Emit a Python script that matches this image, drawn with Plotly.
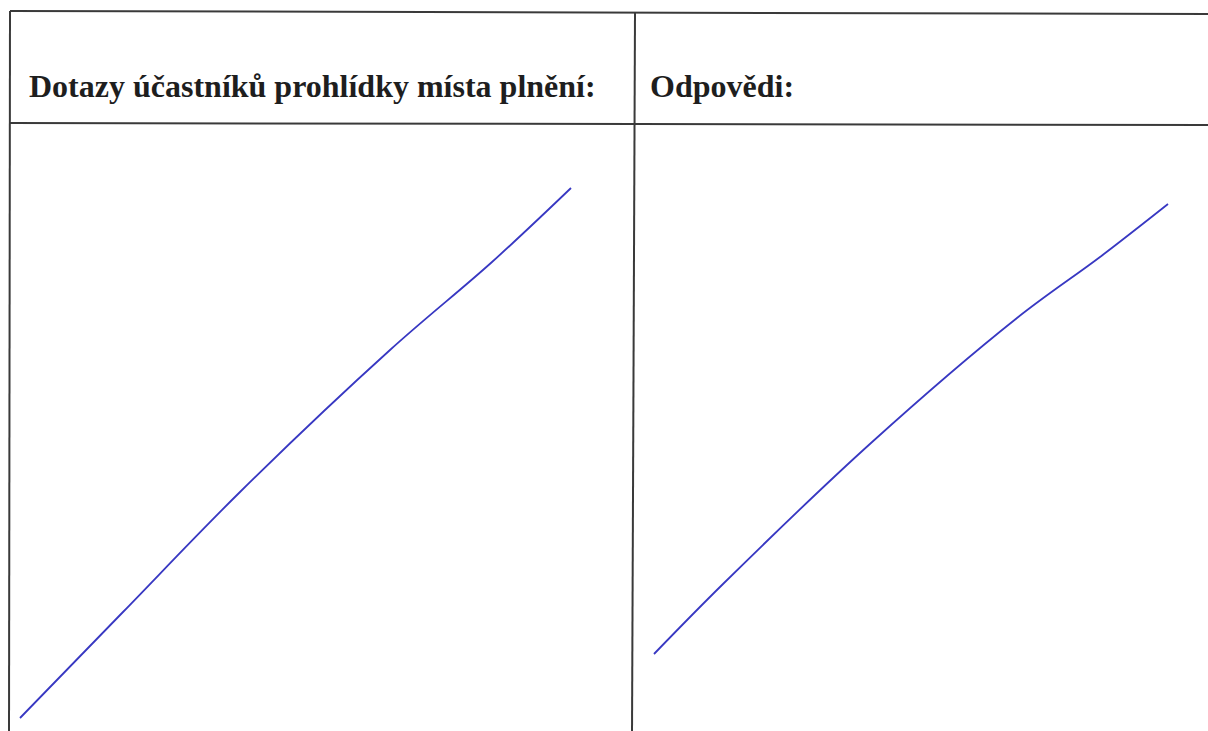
import plotly.graph_objects as go

# page size in px (scanned form)
page_w = 1208
page_h = 731

# column headers of the form
headers = ["Dotazy účastníků prohlídky místa plnění:", "Odpovědi:"]

# hand drawn strike-through line in the left cell (page coords)
left_x = [20, 123, 240, 390, 492, 571]
left_y = [718, 612, 492, 350, 262, 188]

# hand drawn strike-through line in the right cell
right_x = [654, 723, 871, 1017, 1100, 1168]
right_y = [654, 584, 443, 318, 257, 204]

# table grid
top_y = 11
header_y = 123
left_edge = 10
mid_x = 635

pen = "#3838c2"
grid = "#3a3a3a"

fig = go.Figure()

fig.add_trace(go.Scatter(x=left_x, y=left_y, mode="lines",
                         line=dict(color=pen, width=1.8, shape="spline", smoothing=1.0),
                         hoverinfo="skip"))
fig.add_trace(go.Scatter(x=right_x, y=right_y, mode="lines",
                         line=dict(color=pen, width=1.8, shape="spline", smoothing=1.0),
                         hoverinfo="skip"))

# table lines
shapes = [
    dict(type="line", x0=left_edge, x1=page_w + 5, y0=top_y, y1=top_y + 3),
    dict(type="line", x0=left_edge, x1=page_w + 5, y0=header_y, y1=header_y + 2),
    dict(type="line", x0=left_edge, x1=left_edge - 1, y0=top_y, y1=page_h + 5),
    dict(type="line", x0=mid_x, x1=mid_x - 3, y0=top_y + 2, y1=page_h + 5),
]
for s in shapes:
    s.update(xref="x", yref="y", line=dict(color=grid, width=2))

annotations = [
    dict(x=27, y=106, text="<b>" + headers[0] + "</b>"),
    dict(x=648, y=106, text="<b>" + headers[1] + "</b>"),
]
for a in annotations:
    a.update(xref="x", yref="y", xanchor="left", yanchor="bottom", showarrow=False,
             font=dict(family="Liberation Serif", size=32, color="#1e1e1e"))

fig.update_layout(
    width=page_w,
    height=page_h,
    margin=dict(l=0, r=0, t=0, b=0),
    paper_bgcolor="white",
    plot_bgcolor="white",
    showlegend=False,
    shapes=shapes,
    annotations=annotations,
    xaxis=dict(range=[0, page_w], visible=False, fixedrange=True),
    yaxis=dict(range=[page_h, 0], visible=False, fixedrange=True),
)

# drop the default body margin so the page lines up with the scan
fig.write_html("out.html", config={"displayModeBar": False},
               post_script="document.body.style.margin='0';document.body.style.overflow='hidden';")
